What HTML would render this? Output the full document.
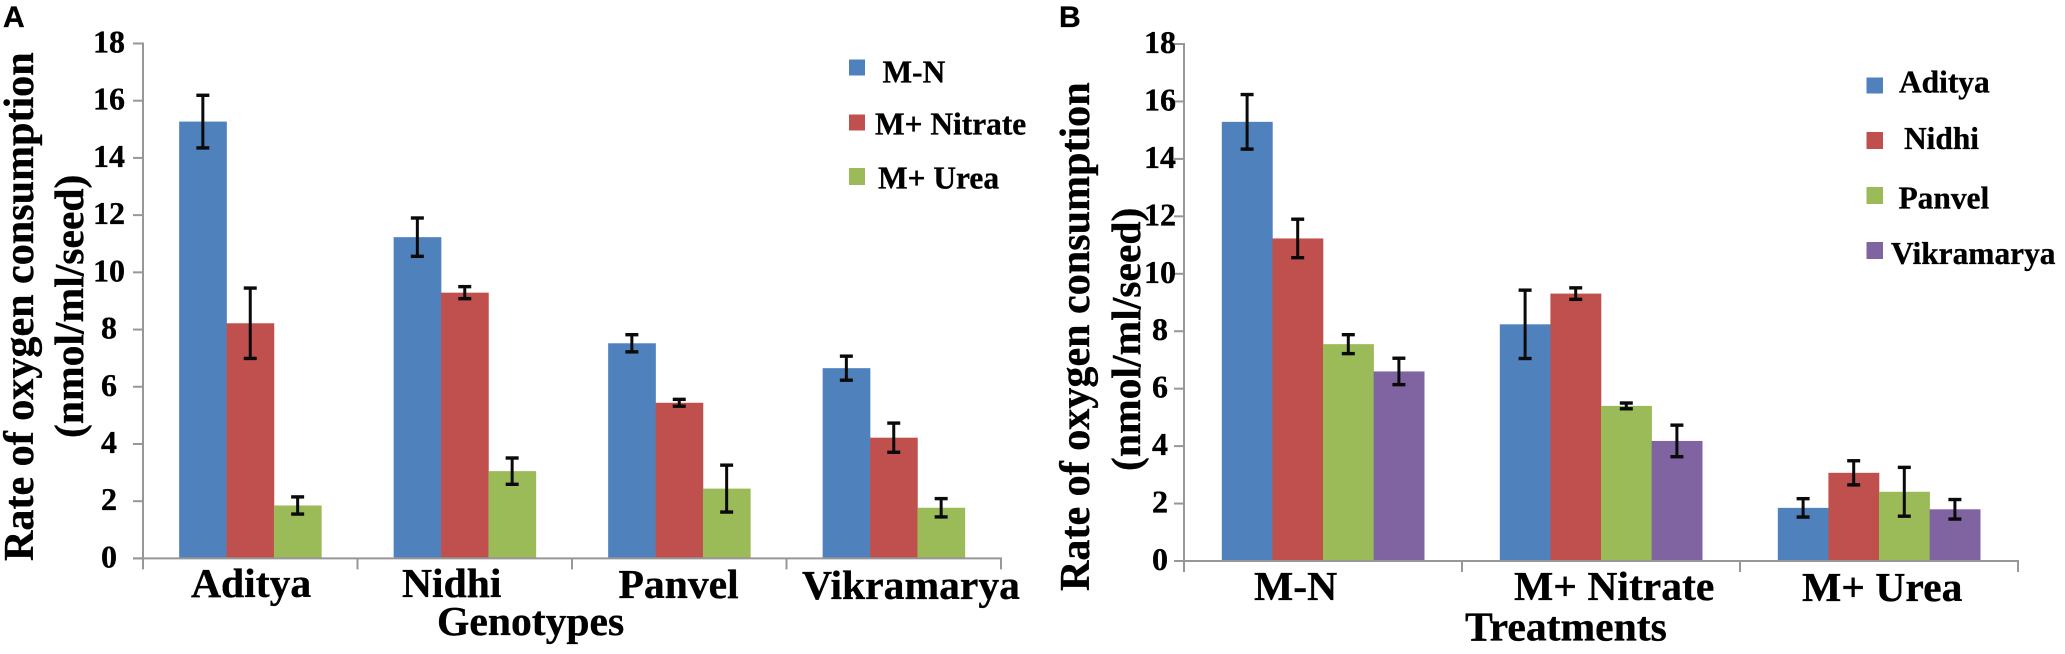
<!DOCTYPE html>
<html lang="en">
<head>
<meta charset="utf-8">
<title>Rate of oxygen consumption</title>
<style>
html,body{margin:0;padding:0;background:#fff;width:2065px;height:654px;overflow:hidden}
svg{display:block}
text{font-family:"Liberation Serif",serif;font-weight:bold;fill:#000;stroke:#000;stroke-width:0.35px}
.big{font-size:41.6px}
.title{font-size:42.1px}
.leg{font-size:31.4px}
.tick{font-size:32px;text-anchor:middle}
.letter{font-family:"Liberation Sans",sans-serif;font-size:30px}
</style>
</head>
<body>
<svg id="chart" xmlns="http://www.w3.org/2000/svg" width="2065" height="654" viewBox="0 0 2065 654">
  <rect width="2065" height="654" fill="#ffffff"/>
  <g id="panel-a"></g>
  <g id="panel-b"></g>

  <text class="letter" x="3" y="27">A</text>
  <text class="letter" x="1059" y="27">B</text>

  <text class="title" transform="translate(33,561) rotate(-90)">Rate of oxygen consumption</text>
  <text class="big" transform="translate(83,438) rotate(-90)">(nmol/ml/seed)</text>
  <text class="title" transform="translate(1089,591) rotate(-90)">Rate of oxygen consumption</text>
  <text class="big" transform="translate(1140,471) rotate(-90)">(nmol/ml/seed)</text>

  <text class="big" x="191" y="597">Aditya</text>
  <text class="big" x="402" y="597">Nidhi</text>
  <text class="big" x="618.5" y="598">Panvel</text>
  <text class="big" x="802" y="599">Vikramarya</text>
  <text class="big" x="437" y="635">Genotypes</text>

  <text class="big" x="1254" y="600">M-N</text>
  <text class="big" x="1514" y="600">M+ Nitrate</text>
  <text class="big" x="1802" y="601">M+ Urea</text>
  <text class="big" x="1465" y="640.5">Treatments</text>

  <g>
    <rect x="849" y="59.5" width="16" height="16" fill="#4f81bd"/>
    <text class="leg" x="882.5" y="82.5">M-N</text>
    <rect x="849" y="114.5" width="16" height="16" fill="#c0504d"/>
    <text class="leg" x="875" y="134.5">M+ Nitrate</text>
    <rect x="849" y="168" width="16" height="17" fill="#9bbb59"/>
    <text class="leg" x="878" y="188.5">M+ Urea</text>
  </g>
  <g>
    <rect x="1866.5" y="77.5" width="16.5" height="16" fill="#4f81bd"/>
    <text class="leg" x="1899" y="92.5">Aditya</text>
    <rect x="1866.5" y="132" width="16.5" height="17" fill="#c0504d"/>
    <text class="leg" x="1904" y="149">Nidhi</text>
    <rect x="1866.5" y="187" width="16.5" height="17" fill="#9bbb59"/>
    <text class="leg" x="1898.5" y="208.5">Panvel</text>
    <rect x="1866.5" y="242" width="16.5" height="17" fill="#8064a2"/>
    <text class="leg" x="1891" y="264">Vikramarya</text>
  </g>
</svg>
<script>
// Y axis tick labels (shared by both panels)
const yTicks = [0, 2, 4, 6, 8, 10, 12, 14, 16, 18];

// Panel A: genotypes on the x axis, one series per treatment
const genotypes = ['Aditya', 'Nidhi', 'Panvel', 'Vikramarya'];
const aMN = [15.27, 11.23, 7.52, 6.65];
const aNitrate = [8.22, 9.29, 5.44, 4.22];
const aUrea = [1.85, 3.05, 2.44, 1.77];
const aMNErr = [0.92, 0.67, 0.30, 0.42];
const aNitrateErr = [1.23, 0.21, 0.12, 0.51];
const aUreaErr = [0.30, 0.46, 0.82, 0.32];

// Panel B: treatments on the x axis, one series per genotype
const treatments = ['M-N', 'M+ Nitrate', 'M+ Urea'];
const bAditya = [15.29, 8.24, 1.85];
const bNidhi = [11.23, 9.31, 3.07];
const bPanvel = [7.55, 5.40, 2.41];
const bVikramarya = [6.60, 4.18, 1.80];
const bAdityaErr = [0.95, 1.19, 0.32];
const bNidhiErr = [0.67, 0.20, 0.42];
const bPanvelErr = [0.33, 0.10, 0.85];
const bVikramaryaErr = [0.46, 0.55, 0.34];

const NS = 'http://www.w3.org/2000/svg';
const AXIS = '#979797';

function drawLine(parent, x1, y1, x2, y2, color, width) {
  const l = document.createElementNS(NS, 'line');
  l.setAttribute('x1', x1);
  l.setAttribute('y1', y1);
  l.setAttribute('x2', x2);
  l.setAttribute('y2', y2);
  l.setAttribute('stroke', color);
  l.setAttribute('stroke-width', width);
  parent.appendChild(l);
  return l;
}

function drawPanel(root, cfg, categories, seriesList) {
  const yScale = v => cfg.y0 - (v / 18) * (cfg.y0 - cfg.y18);
  const band = (cfg.x1 - cfg.x0) / categories.length;
  const barW = cfg.barW;
  const pad = (band - barW * seriesList.length) / 2;
  const xScale = (c, s) => cfg.x0 + band * c + pad + barW * s;

  seriesList.forEach((series, s) => {
    series.values.forEach((v, c) => {
      const bar = document.createElementNS(NS, 'rect');
      
      
      bar.setAttribute('x', xScale(c, s));
      bar.setAttribute('y', yScale(v));
      bar.setAttribute('width', barW + 0.3);
      bar.setAttribute('height', cfg.y0 - yScale(v));
      bar.setAttribute('fill', series.color);
      root.appendChild(bar);
    });
  });

  // Axes
  const yAxis = drawLine(root, cfg.x0, yScale(18) - 1, cfg.x0, cfg.y0 + 11, AXIS, 2);
  
  
  const xAxis = drawLine(root, cfg.x0 - 10, cfg.y0, cfg.x1 + 1, cfg.y0, AXIS, 2);
  
  

  yTicks.forEach(t => {
    const mark = drawLine(root, cfg.x0 - 10, yScale(t), cfg.x0, yScale(t), AXIS, 2);
    
    
    const label = document.createElementNS(NS, 'text');
    
    
    label.setAttribute('class', 'tick');
    label.setAttribute('x', cfg.labelX);
    label.setAttribute('y', yScale(t) + 9);
    label.textContent = t;
    root.appendChild(label);
  });

  for (let c = 1; c <= categories.length; c++) {
    const xt = cfg.x0 + band * c;
    const mark = drawLine(root, xt, cfg.y0, xt, cfg.y0 + 11, AXIS, 2);
    
    
  }

  // Error bars on top of the bars
  seriesList.forEach((series, s) => {
    series.values.forEach((v, c) => {
      const cx = xScale(c, s) + barW / 2;
      const hi = yScale(v + series.errors[c]);
      const lo = yScale(v - series.errors[c]);
      const stem = drawLine(root, cx, hi, cx, lo, '#0a0a0a', 3);
      
      
      const capTop = drawLine(root, cx - 6.5, hi, cx + 6.5, hi, '#0a0a0a', 3.4);
      
      
      const capBottom = drawLine(root, cx - 6.5, lo, cx + 6.5, lo, '#0a0a0a', 3.4);
      
      
    });
  });
}

drawPanel(
  document.getElementById('panel-a'),
  { x0: 143, x1: 1001, y0: 558.4, y18: 43.5, barW: 47.4, labelX: 109 },
  genotypes,
  [
    { name: 'm-n', color: '#4f81bd', values: aMN, errors: aMNErr },
    { name: 'm-nitrate', color: '#c0504d', values: aNitrate, errors: aNitrateErr },
    { name: 'm-urea', color: '#9bbb59', values: aUrea, errors: aUreaErr }
  ]
);

drawPanel(
  document.getElementById('panel-b'),
  { x0: 1184, x1: 2018, y0: 561, y18: 44, barW: 50.6, labelX: 1160 },
  treatments,
  [
    { name: 'aditya', color: '#4f81bd', values: bAditya, errors: bAdityaErr },
    { name: 'nidhi', color: '#c0504d', values: bNidhi, errors: bNidhiErr },
    { name: 'panvel', color: '#9bbb59', values: bPanvel, errors: bPanvelErr },
    { name: 'vikramarya', color: '#8064a2', values: bVikramarya, errors: bVikramaryaErr }
  ]
);
</script>
</body>
</html>
